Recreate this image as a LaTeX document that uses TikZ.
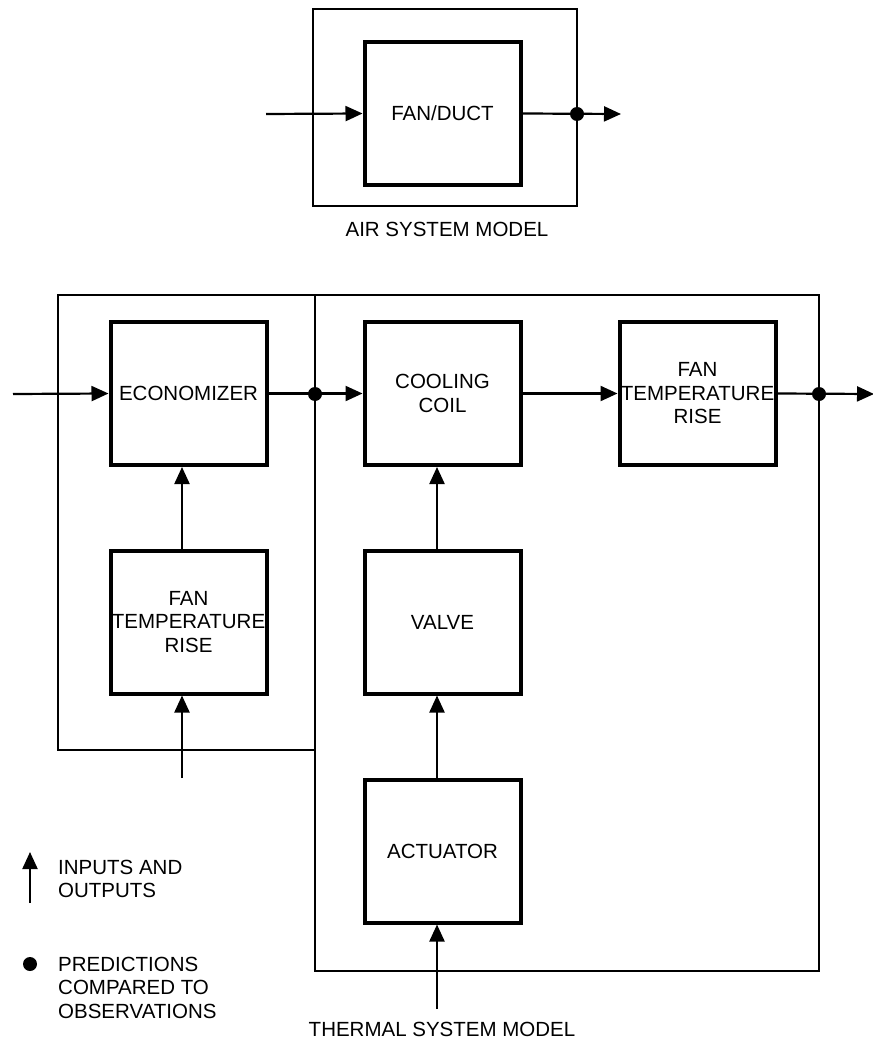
\documentclass[tikz,border=0pt]{standalone}
\usepackage{fontspec}
\setmainfont{Liberation Sans}
\usetikzlibrary{arrows.meta}
\begin{document}
\begin{tikzpicture}[x=1pt,y=-1pt,
  every node/.style={font=\fontsize{20.5}{23.5}\selectfont, inner sep=0pt},
  blk/.style={draw, line width=4pt, minimum width=156, minimum height=143, align=center},
  outer/.style={draw, line width=2.6pt},
  conn/.style={line width=2.2pt},
  arr/.style={conn, -{Triangle[length=17pt,width=15pt]}},
  dot/.style={circle, fill, minimum size=14pt}]
\useasboundingbox (0,0) rectangle (872,1040);
% outer model boxes
\node[outer, minimum width=264, minimum height=197] (air) at (445,107.5) {};
\node[outer, minimum width=257, minimum height=455] (leftm) at (186.5,522.5) {};
\node[outer, minimum width=504, minimum height=676] (therm) at (567,633) {};
% blocks
\node[blk] (fan) at (442.5,113.5) {FAN/DUCT};
\node[blk] (econ) at (188.5,393.5) {ECONOMIZER};
\node[blk] (coil) at (442.5,393.5) {COOLING\\COIL};
\node[blk] (fanR) at (697.5,393.5) {FAN\\TEMPERATURE\\RISE};
\node[blk] (fanL) at (188.5,622) {FAN\\TEMPERATURE\\RISE};
\node[blk] (valve) at (442.5,622) {VALVE};
\node[blk] (act) at (442.5,851) {ACTUATOR};
% helper coordinates
\coordinate (xl) at (182,0);
\coordinate (xm) at (437,0);
\coordinate (inAir) at (266,114);
\coordinate (outAir) at (621,114);
\coordinate (inTh) at (13,394);
\coordinate (outTh) at (874,394);
\coordinate (inFanL) at (182,778);
\coordinate (inAct) at (437,1009);
\coordinate (legA) at (30,903);
\coordinate (legB) at (30,852);
% dots
\node[dot] (d1) at (577,114) {};
\node[dot] (d2) at (315,394) {};
\node[dot] (d3) at (819,394) {};
\node[dot] (d4) at (30,964) {};
% connectors
\draw[arr] (inAir) -- (fan.west);
\draw[arr] (fan.east) -- (outAir);
\draw[arr] (inTh) -- (econ.west);
\draw[arr] (econ.east) -- (coil.west);
\draw[arr] (coil.east) -- (fanR.west);
\draw[arr] (fanR.east) -- (outTh);
\draw[arr] (fanL.north -| xl) -- (econ.south -| xl);
\draw[arr] (inFanL) -- (fanL.south -| xl);
\draw[arr] (valve.north -| xm) -- (coil.south -| xm);
\draw[arr] (act.north -| xm) -- (valve.south -| xm);
\draw[arr] (inAct) -- (act.south -| xm);
\draw[arr] (legA) -- (legB);
% labels
\node[anchor=base] (airlbl) at (447,237) {AIR SYSTEM MODEL};
\node[anchor=base] (thlbl) at (442,1036) {THERMAL SYSTEM MODEL};
\node[anchor=west, align=left] (leg1) at (58,879) {INPUTS AND\\OUTPUTS};
\node[anchor=west, align=left] (leg2) at (58,987.5) {PREDICTIONS\\COMPARED TO\\OBSERVATIONS};
\end{tikzpicture}
\end{document}
